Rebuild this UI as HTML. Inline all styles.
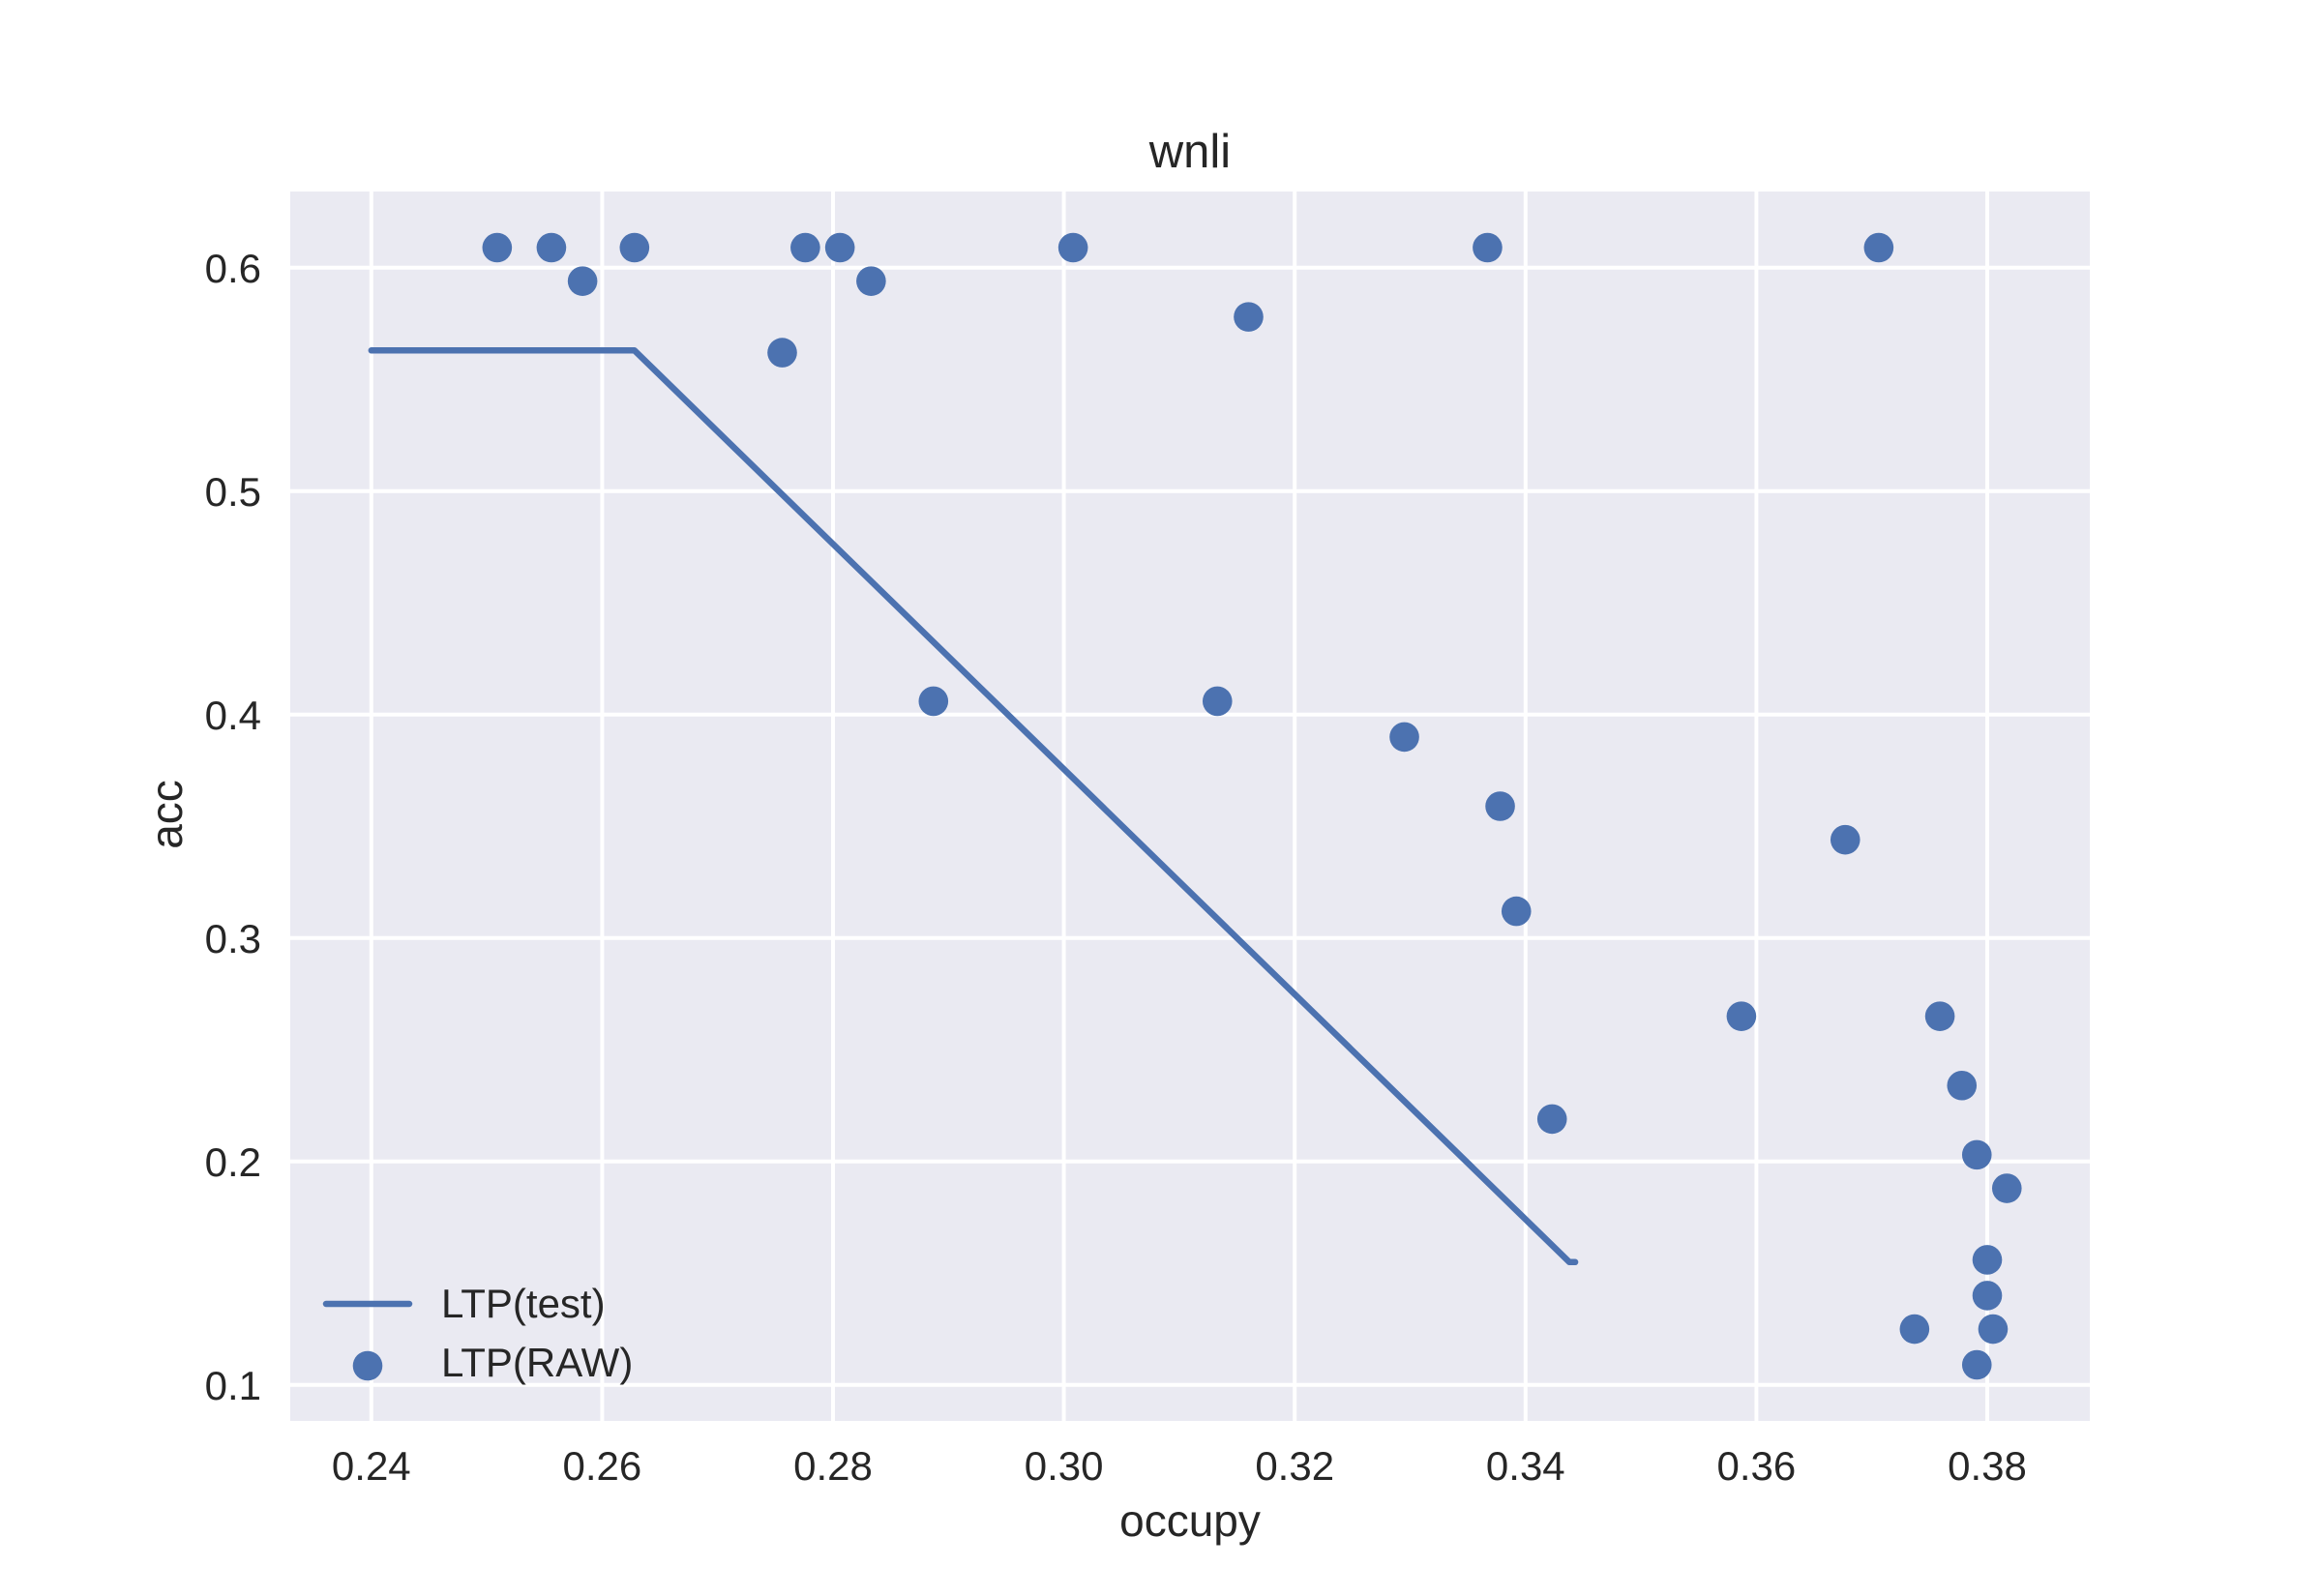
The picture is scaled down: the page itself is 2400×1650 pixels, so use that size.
<!DOCTYPE html>
<html><head><meta charset="utf-8"><style>
html,body{margin:0;padding:0;background:#fff;}
svg{display:block;font-family:"Liberation Sans",sans-serif;}
</style></head><body>
<svg id="chart" width="2400" height="1650" viewBox="0 0 2400 1650" xmlns="http://www.w3.org/2000/svg">
<rect x="300" y="198" width="1860" height="1271" fill="#EAEAF2"/>
<g id="grid"></g>
<g id="ticks"></g>
<g id="marks"></g>
<text x="1230" y="173" font-size="49" text-anchor="middle" fill="#262626">wnli</text>
<text x="1230" y="1588" font-size="46" text-anchor="middle" fill="#262626">occupy</text>
<text x="0" y="0" transform="translate(188,842) rotate(-90)" font-size="46" text-anchor="middle" fill="#262626">acc</text>
<g>
<line x1="337" y1="1348" x2="423" y2="1348" stroke="#4C72B0" stroke-width="6.5" stroke-linecap="round"/>
<text x="456" y="1362" font-size="42" fill="#262626">LTP(test)</text>
<circle cx="380" cy="1412" r="15.3" fill="#4C72B0"/>
<text x="456" y="1423" font-size="42" fill="#262626">LTP(RAW)</text>
</g>
</svg>
<script>
const xTicks = [0.24, 0.26, 0.28, 0.30, 0.32, 0.34, 0.36, 0.38];
const xTickLabels = ["0.24","0.26","0.28","0.30","0.32","0.34","0.36","0.38"];
const yTicks = [0.1, 0.2, 0.3, 0.4, 0.5, 0.6];
const yTickLabels = ["0.1","0.2","0.3","0.4","0.5","0.6"];
const lineX = [0.24, 0.2423, 0.2628, 0.3438, 0.3443];
const lineY = [0.563, 0.563, 0.563, 0.155, 0.155];
const rawX = [0.2509,0.2556,0.2583,0.2628,0.2776,0.2806,0.2833,0.2756,0.2887,0.3008,0.3133,0.3160,0.3295,0.3367,0.3378,0.3392,0.3423,0.3587,0.3677,0.3706,0.3759,0.3778,0.3791,0.3817,0.3800,0.3800,0.3737,0.3805,0.3791];
const rawY = [0.609,0.609,0.594,0.609,0.609,0.609,0.594,0.562,0.406,0.609,0.406,0.578,0.390,0.609,0.359,0.312,0.219,0.265,0.344,0.609,0.265,0.234,0.203,0.188,0.156,0.140,0.125,0.125,0.109];

const NS = "http://www.w3.org/2000/svg";
const X0 = 300, X1 = 2160, Y0 = 198, Y1 = 1469;
function xs(v){ return 383.8 + (v - 0.24) * 11930; }
function ys(v){ return 1431.8 - (v - 0.1) * 2310; }
function mk(tag, attrs, parent){ const e = document.createElementNS(NS, tag); for (const k in attrs) e.setAttribute(k, attrs[k]); parent.appendChild(e); return e; }
const grid = document.getElementById('grid');
const ticks = document.getElementById('ticks');
const marks = document.getElementById('marks');
xTicks.forEach((t, i) => {
  const g = mk('line', {x1: xs(t), x2: xs(t), y1: Y0, y2: Y1, stroke: '#fff', 'stroke-width': 4}, grid);
  
  
  const l = mk('text', {x: xs(t), y: 1530, 'font-size': 42, 'text-anchor': 'middle', fill: '#262626'}, ticks);
  l.textContent = xTickLabels[i];
  
  
});
yTicks.forEach((t, i) => {
  const g = mk('line', {x1: X0, x2: X1, y1: ys(t), y2: ys(t), stroke: '#fff', 'stroke-width': 4}, grid);
  
  
  const l = mk('text', {x: 270, y: ys(t) + 15, 'font-size': 42, 'text-anchor': 'end', fill: '#262626'}, ticks);
  l.textContent = yTickLabels[i];
  
  
});
const pts = lineX.map((x, i) => xs(x).toFixed(1) + ',' + ys(lineY[i]).toFixed(1)).join(' ');
const pl = mk('polyline', {points: pts, fill: 'none', stroke: '#4C72B0', 'stroke-width': 6.5, 'stroke-linecap': 'round', 'stroke-linejoin': 'round'}, marks);


rawX.forEach((x, i) => {
  const c = mk('circle', {cx: xs(x), cy: ys(rawY[i]), r: 15.3, fill: '#4C72B0'}, marks);
  
  
});
</script>
</body></html>
